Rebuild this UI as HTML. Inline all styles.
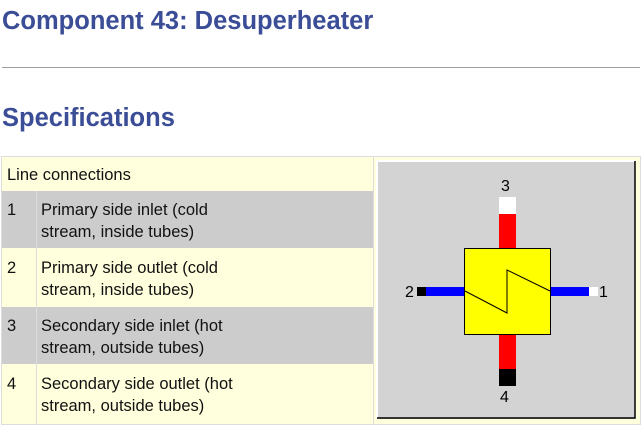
<!DOCTYPE html>
<html><head><meta charset="utf-8"><style>
body{margin:0;width:641px;height:425px;overflow:hidden;background:#fff;font-family:"Liberation Sans",sans-serif;position:relative}
h1,h2{position:absolute;left:2px;margin:0;color:#3a4d96;font-weight:bold;font-size:25.5px}
.hr{position:absolute;left:2px;width:638px;top:67px;height:1px;background:#a0a0a0}
.cell{position:absolute;font-size:16.5px;color:#111;line-height:22px;box-sizing:border-box;padding:4px 5px}
</style></head><body>
<h1 style="top:7px">Component 43: Desuperheater</h1>
<div class="hr"></div>
<h2 style="top:104px">Specifications</h2>
<div style="position:absolute;left:1px;top:156px;width:640px;height:269px;background:#ffffdd;border:1px solid #ddd;box-sizing:border-box"></div>
<div class="cell" style="left:2px;top:160px;width:371px;height:30px">Line connections</div>
<div class="cell" style="left:2px;top:191px;width:371px;height:57px;background:#cccccc"></div>
<div class="cell" style="left:2px;top:307px;width:371px;height:57px;background:#cccccc"></div>
<div style="position:absolute;left:36px;top:191px;width:1px;height:233px;background:#ddd"></div>
<div style="position:absolute;left:373px;top:157px;width:1px;height:267px;background:#ddd"></div>
<div class="cell" style="left:2px;top:195px">1</div>
<div class="cell" style="left:36px;top:195px;width:225px">Primary side inlet (cold stream, inside tubes)</div>
<div class="cell" style="left:2px;top:253px">2</div>
<div class="cell" style="left:36px;top:253px;width:225px">Primary side outlet (cold stream, inside tubes)</div>
<div class="cell" style="left:2px;top:311px">3</div>
<div class="cell" style="left:36px;top:311px;width:240px">Secondary side inlet (hot stream, outside tubes)</div>
<div class="cell" style="left:2px;top:369px">4</div>
<div class="cell" style="left:36px;top:369px;width:240px">Secondary side outlet (hot stream, outside tubes)</div>
<svg style="position:absolute;left:0;top:0" width="641" height="425">
<rect x="377" y="161" width="258" height="258" fill="#d3d3d3"/>
<path d="M377 419V161H635" stroke="#fff" stroke-width="2" fill="none"/>
<path d="M377 418H635V161" stroke="#000" stroke-width="1.5" fill="none"/>
<rect x="499" y="197" width="17" height="17" fill="#fff"/>
<rect x="499" y="214" width="17" height="34" fill="#f00"/>
<rect x="499" y="334" width="17" height="35" fill="#f00"/>
<rect x="499" y="369" width="17" height="17" fill="#000"/>
<rect x="417" y="287" width="9" height="9" fill="#000"/>
<rect x="426" y="287" width="38" height="9" fill="#00f"/>
<rect x="551" y="287" width="38" height="9" fill="#00f"/>
<rect x="589" y="287" width="9" height="9" fill="#fff"/>
<rect x="464.5" y="248.5" width="86" height="86" fill="#ff0" stroke="#000" stroke-width="1"/>
<polyline points="465,291 507,313 507,270 550,291" fill="none" stroke="#000" stroke-width="1"/>
<g font-family="Liberation Sans,sans-serif" font-size="16" fill="#000">
<text x="501" y="191">3</text>
<text x="500" y="402">4</text>
<text x="405" y="297">2</text>
<text x="599" y="297">1</text>
</g>
</svg>
</body></html>
